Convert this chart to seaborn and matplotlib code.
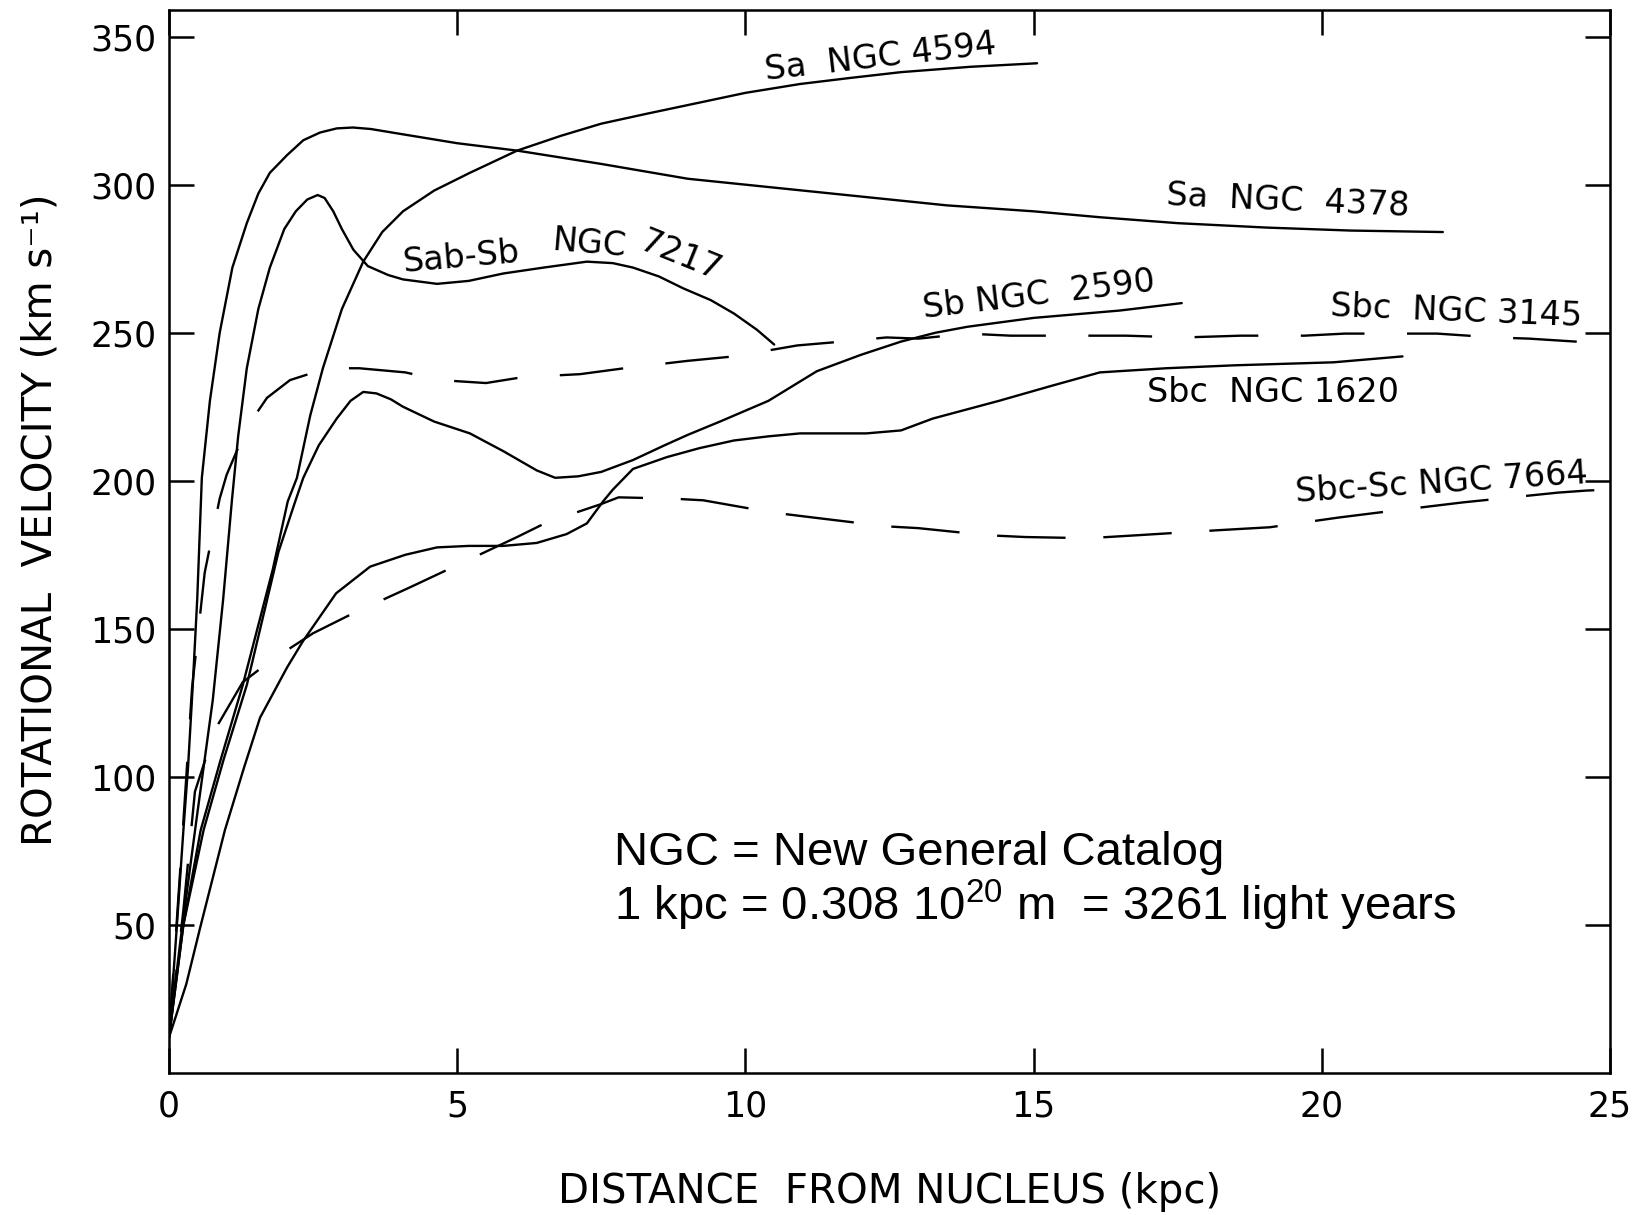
import numpy as np
import pandas as pd
import matplotlib
matplotlib.use("Agg")
import matplotlib.pyplot as plt
import seaborn as sns

# ---------------- data ----------------
ngc4378_x = [0, 0.12, 0.25, 0.33, 0.41, 0.49, 0.57, 0.71, 0.88, 1.1, 1.35, 1.55, 1.75, 2.05, 2.33,
             2.62, 2.91, 3.19, 3.5, 4.06, 5.0, 6.04, 7.5, 9.0, 10.5, 12.0, 13.5, 15.0, 16.15,
             17.5, 19.05, 20.5, 22.1]
ngc4378_y = [12, 45, 82, 103, 130, 160, 201, 227, 250, 272, 287, 297, 304, 310, 315,
             317.6, 319, 319.3, 318.8, 317, 314, 311.5, 307, 302, 299, 296, 293, 291, 289,
             287, 285.5, 284.5, 284]

ngc7217_x = [0, 0.2, 0.48, 0.76, 0.94, 1.09, 1.2, 1.35, 1.55, 1.75, 2.0, 2.2, 2.4, 2.58, 2.7,
             2.85, 3.0, 3.2, 3.45, 3.8, 4.06, 4.65, 5.2, 5.8, 6.5, 7.25, 7.7, 8.05, 8.5, 8.92,
             9.4, 9.8, 10.2, 10.5]
ngc7217_y = [12, 45, 86, 126, 160, 193, 215, 238, 258, 272, 285, 291, 295, 296.5, 295.5,
             291, 285, 278, 272.5, 269.5, 268, 266.5, 267.5, 270, 272, 274, 273.5, 272, 269, 265,
             261, 256.5, 251, 246]

ngc4594_x = [0, 0.25, 0.55, 0.9, 1.28, 1.8, 2.06, 2.22, 2.45, 2.67, 3.0, 3.37, 3.7, 4.06, 4.6,
             5.22, 6.04, 6.8, 7.5, 8.3, 9.2, 10.0, 10.95, 11.8, 12.7, 13.9, 15.06]
ngc4594_y = [12, 50, 82, 106, 131, 170, 193, 201, 222, 238, 258, 274, 284, 291, 298,
             304, 311.5, 316.5, 320.6, 324, 327.7, 331, 334, 336, 338, 339.8, 341]

ngc2590_x = [0, 0.25, 0.6, 0.95, 1.35, 1.9, 2.19, 2.33, 2.6, 2.91, 3.15, 3.37, 3.6, 3.85, 4.06,
             4.6, 5.22, 5.8, 6.38, 6.7, 7.1, 7.5, 8.05, 8.6, 9.0, 9.56, 10.4, 11.24, 12.0, 12.7,
             13.3, 13.85, 15.0, 16.5, 17.57]
ngc2590_y = [12, 50, 82, 106, 131, 176, 193, 201, 212, 221, 227, 230, 229.5, 227.5, 225,
             220, 216, 210, 203.5, 201, 201.5, 203, 207, 212, 215.5, 220, 227, 237, 242.5, 247,
             250, 252, 255, 257.5, 260]

ngc1620_x = [0, 0.3, 0.54, 0.97, 1.3, 1.58, 2.05, 2.33, 2.9, 3.49, 4.1, 4.65, 5.2, 5.8, 6.38,
             6.9, 7.25, 7.53, 7.7, 8.05, 8.64, 9.2, 9.8, 10.4, 10.95, 12.1, 12.7, 13.25, 14.4,
             15.3, 16.15, 17.3, 18.5, 20.2, 21.4]
ngc1620_y = [12, 30, 49, 82, 103, 120, 137, 146, 162, 171, 175, 177.5, 178, 178, 179,
             182, 185.6, 193, 197, 204, 208, 211, 213.6, 215, 216, 216, 217, 221, 227,
             232, 236.6, 238, 239, 240, 242]

ngc3145_x = [0, 0.2, 0.4, 0.62, 0.88, 1.0, 1.35, 1.7, 2.1, 2.74, 3.3, 4.1, 4.7, 5.5, 6.14,
             7.13, 7.9, 9.0, 9.8, 10.9, 11.5, 12.45, 13.0, 13.85, 14.6, 15.7, 16.6, 17.6, 18.6,
             19.7, 20.4, 21.3, 22.0, 23.0, 23.6, 24.65, 25.0]
ngc3145_y = [12, 70, 130, 169, 194, 202, 218, 228, 234, 238, 238, 236.6, 234, 233, 235,
             236, 238, 240.5, 242, 245.7, 246.7, 248.4, 248, 249.7, 249, 249, 249, 248.4, 249,
             249, 249.7, 249.7, 249.7, 248.4, 248, 246.7, 248]

ngc7664_x = [0, 0.25, 0.45, 0.8, 1.28, 1.75, 2.5, 3.17, 4.18, 5.0, 6.04, 6.56, 7.48, 7.8, 8.7,
             9.27, 10.46, 11.17, 12.45, 13.0, 14.2, 14.85, 15.94, 16.8, 18.2, 19.1, 20.3, 21.0,
             22.45, 23.3, 24.1, 24.6, 25.0]
ngc7664_y = [12, 55, 95, 116, 132, 139, 148.5, 155, 164, 171.5, 181, 186, 192, 194.4, 194,
             193.4, 189.3, 187.6, 184.6, 184, 181.6, 181, 180.6, 181.6, 183.3, 184.3, 187.6, 189.3,
             192.7, 194.4, 196, 196.7, 197]

galaxies = ["NGC 4378", "NGC 7217", "NGC 4594", "NGC 2590", "NGC 1620", "NGC 3145", "NGC 7664"]
xs = [ngc4378_x, ngc7217_x, ngc4594_x, ngc2590_x, ngc1620_x, ngc3145_x, ngc7664_x]
ys = [ngc4378_y, ngc7217_y, ngc4594_y, ngc2590_y, ngc1620_y, ngc3145_y, ngc7664_y]

x_ticks = [0, 5, 10, 15, 20, 25]
y_ticks = [50, 100, 150, 200, 250, 300, 350]

rows = []
for g, xx, yy in zip(galaxies, xs, ys):
    for a, b in zip(xx, yy):
        rows.append((g, a, b))
df = pd.DataFrame(rows, columns=["galaxy", "distance", "velocity"])

# ---------------- drawing ----------------
sns.set_theme(style="ticks")
plt.rcParams["font.family"] = ["DejaVu Sans"]
plt.rcParams["mathtext.fontset"] = "custom"
plt.rcParams["mathtext.rm"] = "Liberation Sans"
plt.rcParams["mathtext.it"] = "Liberation Sans:italic"

fig = plt.figure(figsize=(16.39, 12.15), dpi=100)
fig.patch.set_facecolor("white")
ax = fig.add_axes([0.1031, 0.1169, 0.8792, 0.8749])
ax.set_facecolor("white")

dashes = {g: "" for g in galaxies}
dashes["NGC 3145"] = (27, 18)
dashes["NGC 7664"] = (29, 16)
palette = {g: "black" for g in galaxies}

sns.lineplot(data=df, x="distance", y="velocity", hue="galaxy", style="galaxy",
             palette=palette, dashes=dashes, estimator=None, sort=False,
             legend=False, linewidth=1.7, ax=ax)
for ln in ax.lines:
    ln.set_solid_joinstyle("round")
    ln.set_dash_joinstyle("round")
    ln.set_solid_capstyle("round")

ax.set_xlim(0, 25)
ax.set_ylim(0, 359)
ax.set_xticks(x_ticks)
ax.set_xticklabels(["0", "5", "10", "15", "20", "25"])
ax.set_yticks(y_ticks)
ax.set_yticklabels([str(v) for v in y_ticks])

for sp in ax.spines.values():
    sp.set_visible(True)
    sp.set_linewidth(1.8)
    sp.set_color("black")

ax.tick_params(axis="both", which="major", direction="in", length=18, width=1.8,
               labelsize=25, colors="black", top=True, right=True,
               labeltop=False, labelright=False)
ax.tick_params(axis="y", pad=9)
ax.tick_params(axis="x", pad=12)

ax.set_xlabel("DISTANCE  FROM NUCLEUS (kpc)", fontsize=29, color="black")
ax.xaxis.set_label_coords(0.5, -0.093)
ax.set_ylabel("ROTATIONAL  VELOCITY (km s\u207b\u00b9)", fontsize=29, color="black")
ax.yaxis.set_label_coords(-0.075, 0.52)

# curve labels
lab_kw = dict(fontsize=24, color="black", ha="center", va="center", rotation_mode="anchor")
ax.text(12.35, 343, "Sa  NGC 4594", rotation=6.5, **lab_kw)
ax.text(19.41, 294.6, "Sa  NGC  4378", rotation=-2.6, **lab_kw)
ax.text(5.08, 275.4, "Sab-Sb", rotation=5, **lab_kw)
ax.text(7.30, 280.0, "NGC", rotation=-5, **lab_kw)
ax.text(8.87, 276.0, "7217", rotation=-22, **lab_kw)
ax.text(15.09, 262.6, "Sb NGC  2590", rotation=6.7, **lab_kw)
ax.text(22.33, 257.0, "Sbc  NGC 3145", rotation=-2.3, **lab_kw)
ax.text(19.16, 229.8, "Sbc  NGC 1620", rotation=0, **lab_kw)
ax.text(22.08, 199.1, "Sbc-Sc NGC 7664", rotation=3.7, **lab_kw)

# note
ax.text(7.72, 70.2, "NGC = New General Catalog", fontsize=34, color="black",
        family=["Liberation Sans", "DejaVu Sans"], ha="left", va="baseline")
ax.text(7.72, 51.6, r"1 kpc = 0.308 10$^{\mathrm{20}}$ m  = 3261 light years", fontsize=34,
        color="black", family=["Liberation Sans", "DejaVu Sans"], ha="left", va="baseline")

fig.savefig("out.png", dpi=100, facecolor="white")
